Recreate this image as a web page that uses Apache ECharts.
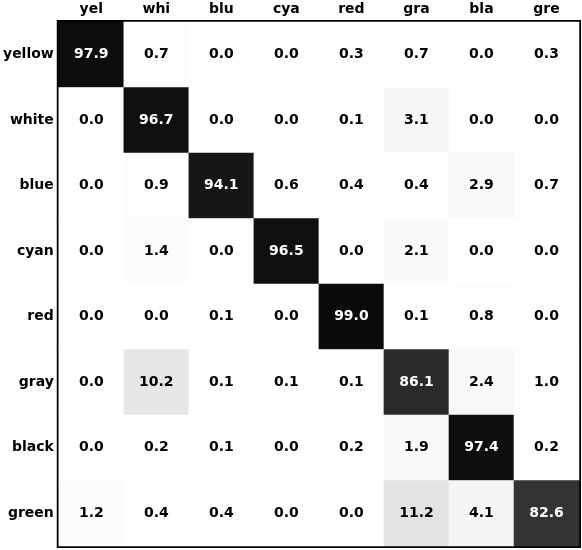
<!DOCTYPE html>
<html>
<head>
<meta charset="utf-8">
<script src="https://cdn.jsdelivr.net/npm/echarts@6/dist/echarts.min.js"></script>
<style>
  html, body { margin: 0; padding: 0; background: #fff; }
  #main { width: 582px; height: 550px; }
</style>
</head>
<body>
<div id="main"></div>
<script>
var colLabels = ['yel', 'whi', 'blu', 'cya', 'red', 'gra', 'bla', 'gre'];
var rowLabels = ['yellow', 'white', 'blue', 'cyan', 'red', 'gray', 'black', 'green'];
// rows = true class, columns = predicted
var yellowRow = [97.9, 0.7, 0.0, 0.0, 0.3, 0.7, 0.0, 0.3];
var whiteRow  = [0.0, 96.7, 0.0, 0.0, 0.1, 3.1, 0.0, 0.0];
var blueRow   = [0.0, 0.9, 94.1, 0.6, 0.4, 0.4, 2.9, 0.7];
var cyanRow   = [0.0, 1.4, 0.0, 96.5, 0.0, 2.1, 0.0, 0.0];
var redRow    = [0.0, 0.0, 0.1, 0.0, 99.0, 0.1, 0.8, 0.0];
var grayRow   = [0.0, 10.2, 0.1, 0.1, 0.1, 86.1, 2.4, 1.0];
var blackRow  = [0.0, 0.2, 0.1, 0.0, 0.2, 1.9, 97.4, 0.2];
var greenRow  = [1.2, 0.4, 0.4, 0.0, 0.0, 11.2, 4.1, 82.6];

var matrix = [yellowRow, whiteRow, blueRow, cyanRow, redRow, grayRow, blackRow, greenRow];

var cells = [];
matrix.forEach(function (row, r) {
  row.forEach(function (v, c) {
    cells.push({
      value: [c, r, v],
      label: { color: v > 50 ? '#ffffff' : '#000000' }
    });
  });
});

var chart = echarts.init(document.getElementById('main'));
chart.setOption({
  backgroundColor: '#ffffff',
  animation: false,
  grid: { left: 56, top: 22, right: 3, bottom: 4, show: true, borderColor: '#000', borderWidth: 4, backgroundColor: 'transparent' },
  xAxis: {
    type: 'category',
    position: 'top',
    data: colLabels,
    axisLine: { show: false },
    axisTick: { show: false },
    splitLine: { show: false },
    axisLabel: { color: '#000', fontFamily: 'DejaVu Sans', fontWeight: 'bold', fontSize: 14, margin: 6 }
  },
  yAxis: {
    type: 'category',
    inverse: true,
    data: rowLabels,
    axisLine: { show: false },
    axisTick: { show: false },
    splitLine: { show: false },
    axisLabel: { color: '#000', fontFamily: 'DejaVu Sans', fontWeight: 'bold', fontSize: 14, margin: 5 }
  },
  visualMap: {
    show: false,
    min: 0,
    max: 103,
    dimension: 2,
    inRange: { color: ['#ffffff', '#000000'] }
  },
  series: [{
    type: 'heatmap',
    data: cells,
    label: {
      show: true,
      fontFamily: 'DejaVu Sans',
      fontWeight: 'bold',
      fontSize: 14,
      formatter: function (p) { return p.value[2].toFixed(1); }
    },
    itemStyle: { borderWidth: 0 }
  }]
});
</script>
</body>
</html>
